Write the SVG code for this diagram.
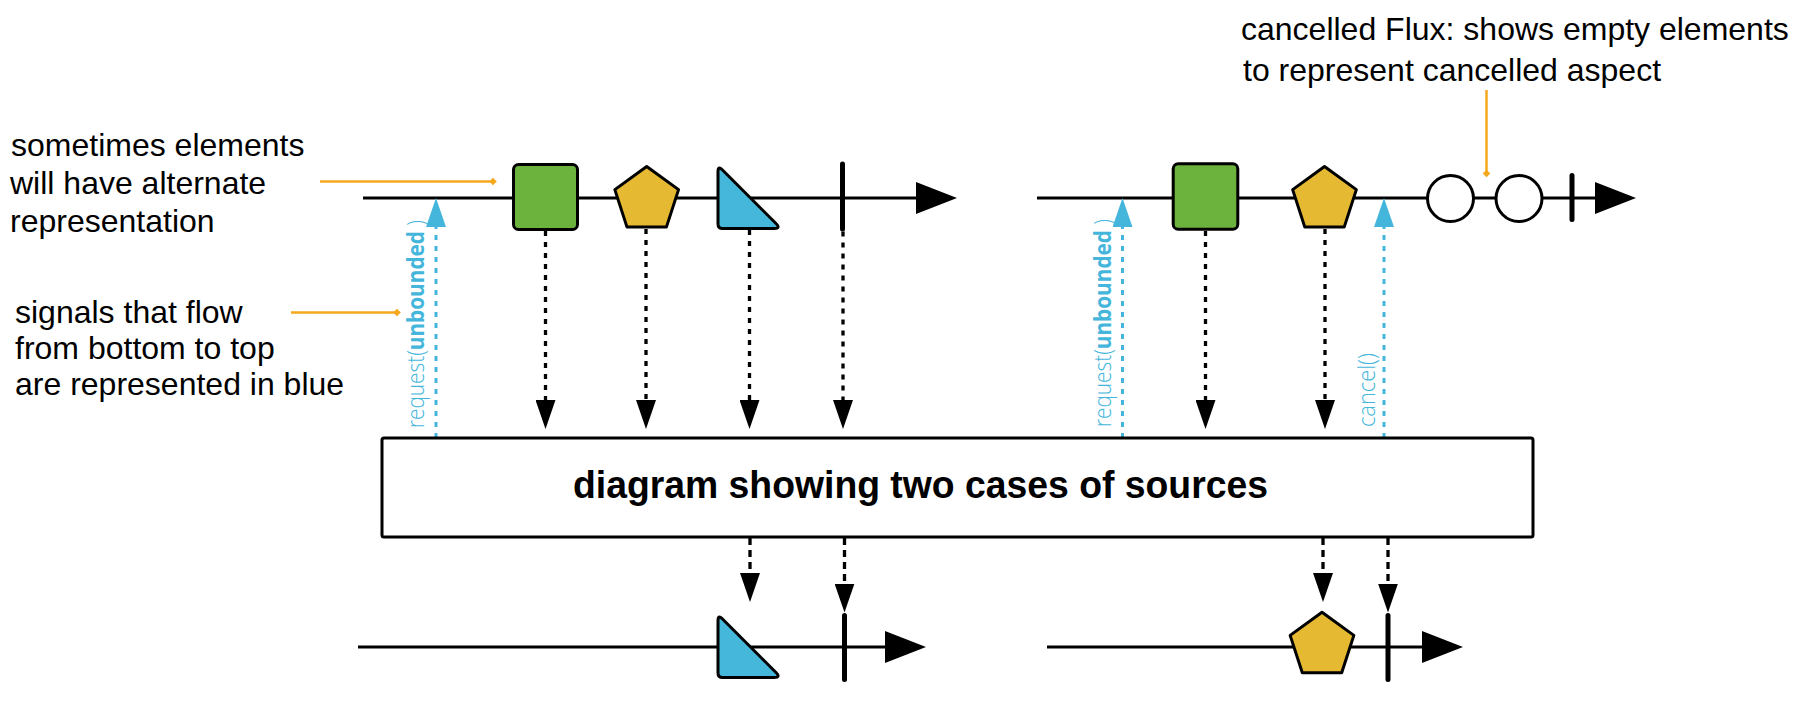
<svg xmlns="http://www.w3.org/2000/svg" width="1799" height="706" viewBox="0 0 1799 706">
<style>
.note{font-family:"Liberation Sans",Arial,sans-serif;font-size:32px;fill:#000}
.title{font-family:"Liberation Sans",Arial,sans-serif;font-size:38px;font-weight:bold;fill:#000}
.sig{font-family:"Open Sans","Liberation Sans",sans-serif;font-size:24px;fill:#44b6db}
.lt{font-weight:300}
.bd{font-weight:700}
.tl{stroke:#000;stroke-width:3;fill:none}
.bar{stroke:#000;stroke-width:5;stroke-linecap:round}
.shape{stroke:#000;stroke-width:3;stroke-linejoin:round}
.green{fill:#6cb33e}
.yellow{fill:#e5b932}
.blue{fill:#44b7db}
.empty{fill:#fff}
.down{stroke:#000;stroke-width:3.3;stroke-dasharray:5,6;fill:none}
.down2{stroke:#000;stroke-width:3.3;stroke-dasharray:7,5;fill:none}
.up{stroke:#44b6db;stroke-width:3;stroke-dasharray:5,6;fill:none}
.ann{stroke:#f5a81c;stroke-width:2.5;fill:none}
</style>
<defs>
<marker id="tlhead" markerUnits="userSpaceOnUse" viewBox="0 0 41 32" markerWidth="41" markerHeight="32" refX="0" refY="16" orient="auto"><path d="M0,0 L41,16 L0,32 Z" fill="#000"/></marker>
<marker id="dh" markerUnits="userSpaceOnUse" viewBox="0 0 29 20" markerWidth="29" markerHeight="20" refX="0" refY="10" orient="auto"><path d="M0,0 L29,10 L0,20 Z" fill="#000"/></marker>
<marker id="uh" markerUnits="userSpaceOnUse" viewBox="0 0 29 20" markerWidth="29" markerHeight="20" refX="0" refY="10" orient="auto"><path d="M0,0 L29,10 L0,20 Z" fill="#44b6db"/></marker>
<marker id="dia" markerUnits="userSpaceOnUse" viewBox="-5 -5 10 10" markerWidth="10" markerHeight="10" refX="0" refY="0" orient="auto"><path d="M-3.8,0 L0,-3.8 L3.8,0 L0,3.8 Z" fill="#f5a81c"/></marker>
</defs>

<g id="annotations">
<text class="note" x="11" y="156">sometimes elements</text>
<text class="note" x="10" y="194">will have alternate</text>
<text class="note" x="10" y="232">representation</text>
<text class="note" x="15" y="323">signals that flow</text>
<text class="note" x="15" y="359">from bottom to top</text>
<text class="note" x="15" y="395">are represented in blue</text>
<text class="note" x="1241" y="40">cancelled Flux: shows empty elements</text>
<text class="note" x="1243" y="81">to represent cancelled aspect</text>
</g>

<g id="timelines">
<line class="tl" x1="363" y1="198" x2="916" y2="198" marker-end="url(#tlhead)"/>
<line class="tl" x1="1037" y1="198" x2="1595" y2="198" marker-end="url(#tlhead)"/>
<line class="tl" x1="358" y1="647" x2="885" y2="647" marker-end="url(#tlhead)"/>
<line class="tl" x1="1047" y1="647" x2="1422" y2="647" marker-end="url(#tlhead)"/>
</g>

<g id="connectors">
<line class="down" x1="545.5" y1="231" x2="545.5" y2="400" marker-end="url(#dh)"/>
<line class="down" x1="646" y1="229" x2="646" y2="400" marker-end="url(#dh)"/>
<line class="down" x1="749.5" y1="230" x2="749.5" y2="400" marker-end="url(#dh)"/>
<line class="down" x1="843" y1="231.5" x2="843" y2="400" marker-end="url(#dh)"/>
<line class="down" x1="1205.5" y1="231" x2="1205.5" y2="400" marker-end="url(#dh)"/>
<line class="down" x1="1325" y1="229" x2="1325" y2="400" marker-end="url(#dh)"/>
<line class="down2" x1="750" y1="538" x2="750" y2="573" marker-end="url(#dh)"/>
<line class="down2" x1="844.5" y1="538" x2="844.5" y2="583.5" marker-end="url(#dh)"/>
<line class="down2" x1="1323" y1="538" x2="1323" y2="573" marker-end="url(#dh)"/>
<line class="down2" x1="1388" y1="538" x2="1388" y2="583.5" marker-end="url(#dh)"/>
<line class="up" x1="436" y1="438" x2="436" y2="227" marker-end="url(#uh)"/>
<line class="up" x1="1122.5" y1="438" x2="1122.5" y2="227" marker-end="url(#uh)"/>
<line class="up" x1="1384" y1="438" x2="1384" y2="227" marker-end="url(#uh)"/>
<line class="ann" x1="320" y1="181.5" x2="493" y2="181.5" marker-end="url(#dia)"/>
<line class="ann" x1="291" y1="312.5" x2="397" y2="312.5" marker-end="url(#dia)"/>
<line class="ann" x1="1486.5" y1="90" x2="1486.5" y2="173.5" marker-end="url(#dia)"/>
</g>

<g id="signal-labels">
<text class="sig" transform="translate(424,428) rotate(-90)" textLength="208" lengthAdjust="spacingAndGlyphs"><tspan class="lt">request(</tspan><tspan class="bd">unbounded</tspan><tspan class="lt"> )</tspan></text>
<text class="sig" transform="translate(1111,427) rotate(-90)" textLength="208" lengthAdjust="spacingAndGlyphs"><tspan class="lt">request(</tspan><tspan class="bd">unbounded</tspan><tspan class="lt"> )</tspan></text>
<text class="sig lt" transform="translate(1375,427) rotate(-90)" textLength="74" lengthAdjust="spacingAndGlyphs">cancel()</text>
</g>

<g id="top-left-square"><rect class="shape green" x="513.5" y="164.5" width="64" height="65" rx="5"/></g>
<g id="top-left-pentagon"><polygon class="shape yellow" points="646.7,166.5 678.56,189.65 666.39,227.1 627.01,227.1 614.84,189.65"/></g>
<g id="top-left-triangle"><path class="shape blue" d="M718,172 L718,224 Q718,228.5 722.5,228.5 L774,228.5 Q781,228.5 776,223.5 L722,169.5 Q718,165.5 718,172 Z"/></g>
<g id="top-left-complete"><line class="bar" x1="842.5" y1="164" x2="842.5" y2="229"/></g>

<g id="top-right-square"><rect class="shape green" x="1173.2" y="163.8" width="64.6" height="65.4" rx="5"/></g>
<g id="top-right-pentagon"><polygon class="shape yellow" points="1324.5,166.5 1356.36,189.65 1344.19,227.1 1304.81,227.1 1292.64,189.65"/></g>
<g id="cancelled-1"><circle class="shape empty" cx="1450.5" cy="198.5" r="23"/></g>
<g id="cancelled-2"><circle class="shape empty" cx="1519" cy="198.5" r="23"/></g>
<g id="top-right-complete"><line class="bar" x1="1572" y1="175.5" x2="1572" y2="219.5"/></g>

<g id="operator-box">
<rect x="382" y="438" width="1151" height="99" rx="2" fill="#fff" stroke="#000" stroke-width="3"/>
<text class="title" x="573" y="498" textLength="695" lengthAdjust="spacingAndGlyphs">diagram showing two cases of sources</text>
</g>

<g id="bottom-left-triangle"><path class="shape blue" d="M718,621 L718,673 Q718,677.5 722.5,677.5 L774,677.5 Q781,677.5 776,672.5 L722,618.5 Q718,614.5 718,621 Z"/></g>
<g id="bottom-left-complete"><line class="bar" x1="844.5" y1="615.5" x2="844.5" y2="679.5"/></g>
<g id="bottom-right-pentagon"><polygon class="shape yellow" points="1322,612.2 1353.86,635.35 1341.69,672.8 1302.31,672.8 1290.14,635.35"/></g>
<g id="bottom-right-complete"><line class="bar" x1="1388" y1="615.5" x2="1388" y2="679.5"/></g>
</svg>
